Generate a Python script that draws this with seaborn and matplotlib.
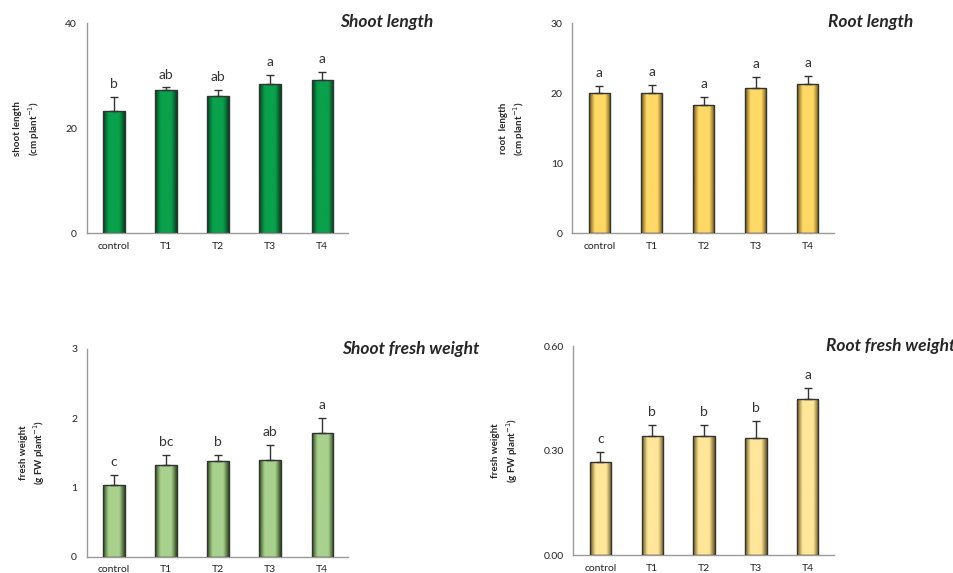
import numpy as np
import matplotlib
matplotlib.use("Agg")
import matplotlib.pyplot as plt
from matplotlib.colors import LinearSegmentedColormap
import seaborn as sns

# Data
treatments = ["control", "T1", "T2", "T3", "T4"]

shoot_length = [23.3, 27.3, 26.1, 28.5, 29.3]
shoot_length_se = [2.6, 0.5, 1.3, 1.7, 1.5]
shoot_length_letters = ["b", "ab", "ab", "a", "a"]

root_length = [20.0, 20.0, 18.3, 20.8, 21.3]
root_length_se = [1.1, 1.2, 1.2, 1.6, 1.2]
root_length_letters = ["a", "a", "a", "a", "a"]

shoot_fw = [1.04, 1.32, 1.38, 1.40, 1.79]
shoot_fw_se = [0.14, 0.15, 0.09, 0.22, 0.21]
shoot_fw_letters = ["c", "bc", "b", "ab", "a"]

root_fw = [0.268, 0.342, 0.342, 0.336, 0.448]
root_fw_se = [0.029, 0.033, 0.033, 0.048, 0.031]
root_fw_letters = ["c", "b", "b", "b", "a"]

sns.set_style("white")
plt.rcParams["font.family"] = ["Lato", "DejaVu Sans"]

fig = plt.figure(figsize=(9.54, 5.73), dpi=100)


def draw_panel(rect, values, errors, letters, color, dark, ymax, yticks, ticklabels,
               ylabel, title, title_x, title_y):
    ax = fig.add_axes(rect)
    sns.barplot(x=treatments, y=values, color=color, width=0.41,
                edgecolor="#333333", linewidth=1.0, ax=ax, zorder=2)
    # cylinder-like shading on the bars
    cmap = LinearSegmentedColormap.from_list("shade", [dark, color, color, color, dark])
    grad = np.linspace(0, 1, 64).reshape(1, -1)
    for bar in ax.patches:
        x0, w, h = bar.get_x(), bar.get_width(), bar.get_height()
        im = ax.imshow(grad, cmap=cmap, aspect="auto", extent=[x0, x0 + w, 0, h],
                       zorder=2.5, interpolation="bicubic")
        im.set_clip_path(bar)
        bar.set_facecolor("none")
        bar.set_zorder(3)
    ax.errorbar(range(len(values)), values, yerr=[[0] * len(values), errors],
                fmt="none", ecolor="#333333", elinewidth=1.0, capsize=3, capthick=1.0, zorder=4)
    for i, (v, e, lab) in enumerate(zip(values, errors, letters)):
        ax.annotate(lab, (i, v + e), xytext=(0, 5), textcoords="offset points",
                    ha="center", va="bottom", fontsize=10, color="#333333")
    ax.set_xlim(-0.52, 4.5)
    ax.set_ylim(0, ymax)
    ax.set_yticks(yticks)
    ax.set_yticklabels(ticklabels, fontsize=7.5, color="#222222")
    ax.set_xticks(range(len(treatments)))
    ax.set_xticklabels(treatments, fontsize=7.5, color="#222222")
    ax.set_xticks(np.arange(-0.5, 5, 1), minor=True)
    ax.tick_params(axis="x", which="major", length=0, pad=6)
    ax.tick_params(axis="x", which="minor", length=4, color="#999999", direction="out")
    ax.tick_params(axis="y", length=4, color="#999999", direction="out", pad=3)
    sns.despine(ax=ax)
    for s in ["left", "bottom"]:
        ax.spines[s].set_color("#9a9a9a")
        ax.spines[s].set_linewidth(1.0)
    ax.set_ylabel(ylabel, fontsize=7, fontweight="bold", labelpad=17, linespacing=1.3)
    ax.set_xlabel("")
    fig.text(title_x, title_y, title, fontsize=12.5, fontweight="bold", style="italic",
             ha="left", va="center")
    return ax


draw_panel([0.091, 0.593, 0.274, 0.366], shoot_length, shoot_length_se, shoot_length_letters,
           "#0aa14c", "#03401e", 40, [0, 20, 40], ["0", "20", "40"],
           "shoot length\n(cm plant$^{-1}$)", "Shoot length", 0.356, 0.962)

draw_panel([0.600, 0.593, 0.274, 0.366], root_length, root_length_se, root_length_letters,
           "#ffd966", "#6b5412", 30, [0, 10, 20, 30], ["0", "10", "20", "30"],
           "root  length\n(cm plant$^{-1}$)", "Root length", 0.868, 0.962)

draw_panel([0.091, 0.028, 0.274, 0.363], shoot_fw, shoot_fw_se, shoot_fw_letters,
           "#a9d18e", "#2e4a1c", 3, [0, 1, 2, 3], ["0", "1", "2", "3"],
           "fresh weight\n(g FW plant$^{-1}$)", "Shoot fresh weight", 0.358, 0.391)

draw_panel([0.601, 0.031, 0.273, 0.365], root_fw, root_fw_se, root_fw_letters,
           "#ffe699", "#6b5a1e", 0.6, [0, 0.3, 0.6], ["0.00", "0.30", "0.60"],
           "fresh weight\n(g FW plant$^{-1}$)", "Root fresh weight", 0.866, 0.396)

fig.savefig("out.png", dpi=100)
